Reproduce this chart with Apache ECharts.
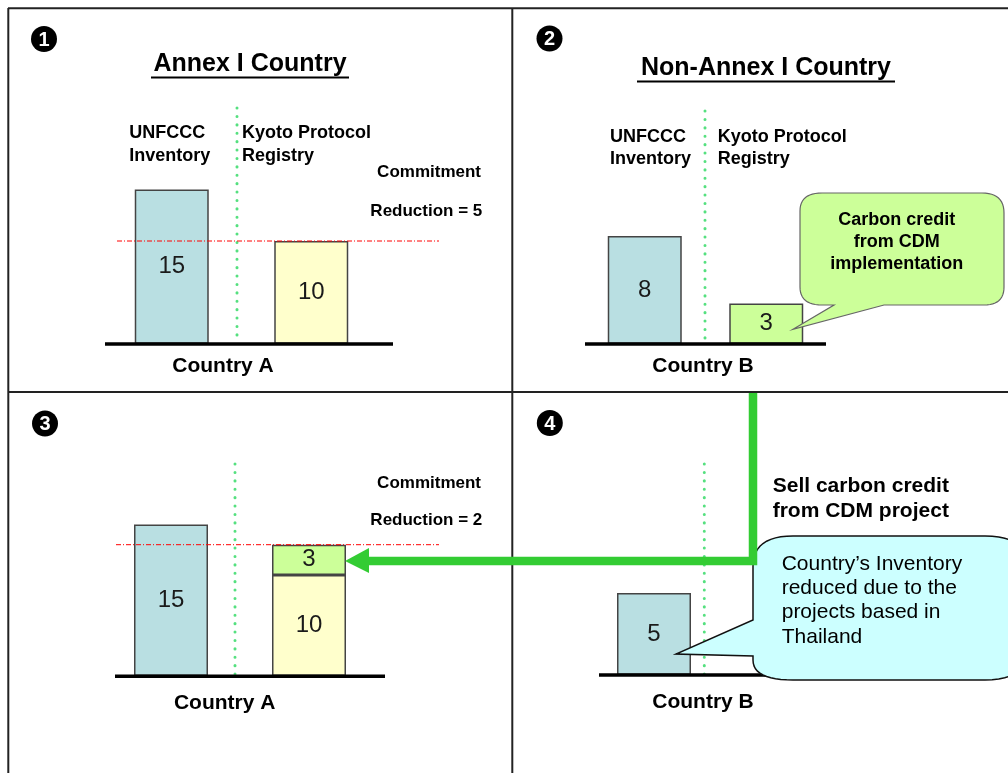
<!DOCTYPE html>
<html>
<head>
<meta charset="utf-8">
<title>Carbon credit transfer under the CDM</title>
<script src="https://cdn.jsdelivr.net/npm/echarts@6/dist/echarts.min.js"></script>
<style>
  html, body { margin: 0; padding: 0; background: #ffffff; }
  #chart { width: 1008px; height: 773px; }
</style>
</head>
<body>
<div id="chart"></div>
<script>
// ---- data ----
const categories = ['UNFCCC Inventory', 'Kyoto Protocol Registry'];

// Panel 1: Annex I country (Country A) before trading
const inventoryA = [15, '-'];
const registryA = ['-', 10];

// Panel 2: Non-Annex I country (Country B) with CDM credit
const inventoryB = [8, '-'];
const creditB = ['-', 3];

// Panel 3: Country A after buying the credit
const inventoryA2 = [15, '-'];
const registryA2 = ['-', 10];
const creditA2 = ['-', 3];

// Panel 4: Country B after selling the credit
const inventoryB2 = [5, '-'];

const panelNumbers = ['1', '2', '3', '4'];
const countryNames = ['Country A', 'Country B', 'Country A', 'Country B'];

// ---- styles ----
const FONT = '"Liberation Sans", Arial, Helvetica, sans-serif';
const BLUE = '#B9DFE2';
const YELLOW = '#FFFFCC';
const GREEN = '#CCFF99';
const EDGE = '#444444';
const ARROW = '#33CC33';

const chart = echarts.init(document.getElementById('chart'), null, { renderer: 'canvas' });

const grids = [
  { left: 102, top: 138, width: 279, height: 206 },
  { left: 584, top: 209, width: 243, height: 135 },
  { left: 102, top: 474, width: 276, height: 202 },
  { left: 593.5, top: 511, width: 242, height: 164 }
];
const yMax = [20, 10, 20, 10];

function barSeries(name, data, gridIndex, color, stack) {
  return {
    name: name,
    type: 'bar',
    xAxisIndex: gridIndex,
    yAxisIndex: gridIndex,
    data: data,
    stack: stack,
    barWidth: 74,
    barGap: '-100%',
    itemStyle: { color: color, borderColor: EDGE, borderWidth: 1.5 },
    label: {
      show: true,
      position: 'inside',
      fontFamily: FONT,
      fontSize: 24,
      color: '#1a1a1a'
    },
    emphasis: { disabled: true }
  };
}

chart.setOption({
  animation: false,
  backgroundColor: '#ffffff',
  grid: grids,
  xAxis: grids.map((g, i) => ({ type: 'category', gridIndex: i, data: categories, show: false })),
  yAxis: grids.map((g, i) => ({ type: 'value', gridIndex: i, min: 0, max: yMax[i], show: false })),
  series: [
    barSeries('Inventory', inventoryA, 0, BLUE),
    barSeries('Registry', registryA, 0, YELLOW),
    barSeries('Inventory', inventoryB, 1, BLUE),
    barSeries('CDM credit', creditB, 1, GREEN),
    barSeries('Inventory', inventoryA2, 2, BLUE),
    barSeries('Registry', registryA2, 2, YELLOW, 'registry'),
    barSeries('CDM credit', creditA2, 2, GREEN, 'registry'),
    barSeries('Inventory', inventoryB2, 3, BLUE)
  ]
});

// ---- helpers for the annotation layer ----
function text(str, x, y, size, opt) {
  opt = opt || {};
  return {
    type: 'text', z: 40, silent: true,
    style: {
      text: str, x: x, y: y,
      font: (opt.bold ? 'bold ' : '') + size + 'px ' + FONT,
      fill: opt.color || '#000000',
      align: opt.align || 'left',
      verticalAlign: 'middle'
    }
  };
}
function line(x1, y1, x2, y2, stroke, width, extra) {
  return {
    type: 'line', z: (extra && extra.z) || 5, silent: true,
    shape: { x1: x1, y1: y1, x2: x2, y2: y2 },
    style: Object.assign({ stroke: stroke, lineWidth: width }, (extra && extra.style) || {})
  };
}
function dotted(x, y1, y2) {
  return line(x, y1, x, y2, '#55E07F', 3, { z: 3, style: { lineDash: [0.1, 8.3], lineCap: 'round' } });
}
function badge(cx, cy, label) {
  return [
    { type: 'circle', z: 40, silent: true, shape: { cx: cx, cy: cy, r: 13 }, style: { fill: '#000000' } },
    text(label, cx, cy + 1, 20, { bold: true, color: '#ffffff', align: 'center' })
  ];
}
function sum(arr, i) {
  return arr.reduce((s, a) => s + (typeof a[i] === 'number' ? a[i] : 0), 0);
}
// outline built from straight segments ['L', x, y] and rounded corners ['Q', cx, cy, x, y]
function outline(start, segs) {
  const pts = [start.slice()];
  let cur = start.slice();
  segs.forEach(s => {
    if (s[0] === 'L') {
      cur = [s[1], s[2]];
      pts.push(cur);
    } else {
      const c = [s[1], s[2]], e = [s[3], s[4]];
      for (let k = 1; k <= 12; k++) {
        const t = k / 12, u = 1 - t;
        pts.push([
          u * u * cur[0] + 2 * u * t * c[0] + t * t * e[0],
          u * u * cur[1] + 2 * u * t * c[1] + t * t * e[1]
        ]);
      }
      cur = e;
    }
  });
  return pts;
}

// registry level (commitment line) tied to the bar values
const levelA = sum([registryA], 1);
const levelA2 = sum([registryA2, creditA2], 1);
const yLevelA = chart.convertToPixel({ gridIndex: 0 }, [1, levelA])[1];
const yLevelA2 = chart.convertToPixel({ gridIndex: 2 }, [1, levelA2])[1];
const redDash = { z: 6, style: { lineDash: [5, 2, 1, 2] } };

const g = [];

// panel frame
g.push(line(8, 8.3, 1008, 8.3, '#222222', 2, { z: 1 }));
g.push(line(8.3, 8, 8.3, 773, '#222222', 2, { z: 1 }));
g.push(line(512.3, 8, 512.3, 773, '#222222', 2, { z: 1 }));
g.push(line(8, 392, 1008, 392, '#222222', 2, { z: 1 }));

// panel badges
g.push(...badge(44, 39, panelNumbers[0]));
g.push(...badge(549.5, 38.5, panelNumbers[1]));
g.push(...badge(45, 423.5, panelNumbers[2]));
g.push(...badge(549.8, 423, panelNumbers[3]));

// panel titles
g.push(text('Annex I Country', 250, 64, 25, { bold: true, align: 'center' }));
g.push(line(151, 77.5, 349, 77.5, '#000000', 2, { z: 40 }));
g.push(text('Non-Annex I Country', 766, 68, 25, { bold: true, align: 'center' }));
g.push(line(637, 81.5, 895, 81.5, '#000000', 2, { z: 40 }));

// column headings
g.push(text('UNFCCC', 129.3, 132.7, 18, { bold: true }));
g.push(text('Inventory', 129.3, 155.7, 18, { bold: true }));
g.push(text('Kyoto Protocol', 242, 132.7, 18, { bold: true }));
g.push(text('Registry', 242, 155.7, 18, { bold: true }));
g.push(text('UNFCCC', 610, 136.7, 18, { bold: true }));
g.push(text('Inventory', 610, 159.5, 18, { bold: true }));
g.push(text('Kyoto Protocol', 717.7, 136.7, 18, { bold: true }));
g.push(text('Registry', 717.7, 159.5, 18, { bold: true }));

// dotted separators between the two columns
g.push(dotted(237, 108, 343));
g.push(dotted(705, 111, 343));
g.push(dotted(235, 464, 676));
g.push(dotted(704.3, 464, 680));

// commitment lines and notes
g.push(line(117, yLevelA, 439, yLevelA, '#FF0000', 1, redDash));
g.push(line(116, yLevelA2, 439, yLevelA2, '#FF0000', 1, redDash));
g.push(text('Commitment', 481, 172.5, 17, { bold: true, align: 'right' }));
g.push(text('Reduction = ' + (inventoryA[0] - levelA), 482.3, 211, 17, { bold: true, align: 'right' }));
g.push(text('Commitment', 481, 483, 17, { bold: true, align: 'right' }));
g.push(text('Reduction = ' + (inventoryA2[0] - levelA2), 482.3, 520.3, 17, { bold: true, align: 'right' }));

// baselines
g.push(line(105, 344, 393, 344, '#000000', 3.5, { z: 10 }));
g.push(line(585, 344, 826, 344, '#000000', 3.5, { z: 10 }));
g.push(line(115, 676.3, 385, 676.3, '#000000', 3.5, { z: 10 }));
g.push(line(599, 675, 826, 675, '#000000', 3.5, { z: 10 }));

// country names
g.push(text(countryNames[0], 223, 366.7, 21, { bold: true, align: 'center' }));
g.push(text(countryNames[1], 703, 366.7, 21, { bold: true, align: 'center' }));
g.push(text(countryNames[2], 224.7, 703.3, 21, { bold: true, align: 'center' }));
g.push(text(countryNames[3], 703, 702, 21, { bold: true, align: 'center' }));

// callout: carbon credit from CDM
g.push({
  type: 'polygon', z: 20, silent: true,
  shape: {
    points: outline([822, 193], [
      ['L', 982, 193], ['Q', 1004, 193, 1004, 213], ['L', 1004, 287], ['Q', 1004, 305, 984, 305],
      ['L', 884, 305], ['L', 793, 329.3], ['L', 834, 305], ['L', 822, 305],
      ['Q', 800, 305, 800, 287], ['L', 800, 211], ['Q', 800, 193, 822, 193]
    ])
  },
  style: { fill: GREEN, stroke: '#666666', lineWidth: 1.2 }
});
g.push(text('Carbon credit', 896.7, 220.5, 18, { bold: true, align: 'center' }));
g.push(text('from CDM', 896.7, 242.5, 18, { bold: true, align: 'center' }));
g.push(text('implementation', 896.7, 264.5, 18, { bold: true, align: 'center' }));

// transfer arrow from Country B to Country A
g.push({
  type: 'polyline', z: 30, silent: true,
  shape: { points: [[753, 393], [753, 561], [368, 561]] },
  style: { stroke: ARROW, lineWidth: 8.5, fill: null, lineJoin: 'miter' }
});
g.push({
  type: 'polygon', z: 30, silent: true,
  shape: { points: [[369, 548], [345, 561], [369, 573]] },
  style: { fill: ARROW }
});
g.push(text('Sell carbon credit', 772.7, 486.7, 21, { bold: true }));
g.push(text('from CDM project', 772.7, 511.5, 21, { bold: true }));

// callout: inventory reduction
g.push({
  type: 'polygon', z: 25, silent: true,
  shape: {
    points: outline([793, 536], [
      ['L', 985, 536], ['Q', 1030, 536, 1030, 571], ['L', 1030, 645], ['Q', 1030, 680, 985, 680],
      ['L', 793, 680], ['Q', 753, 680, 753, 660], ['L', 753, 656], ['L', 676, 654],
      ['L', 753, 620], ['L', 753, 566], ['Q', 753, 536, 793, 536]
    ])
  },
  style: { fill: '#CCFFFF', stroke: '#111111', lineWidth: 1.5 }
});
g.push(text('Country\u2019s Inventory', 781.7, 564, 21));
g.push(text('reduced due to the', 781.7, 588.5, 21));
g.push(text('projects based in', 781.7, 612.5, 21));
g.push(text('Thailand', 781.7, 637, 21));

chart.setOption({ graphic: { elements: g } });
</script>
</body>
</html>
